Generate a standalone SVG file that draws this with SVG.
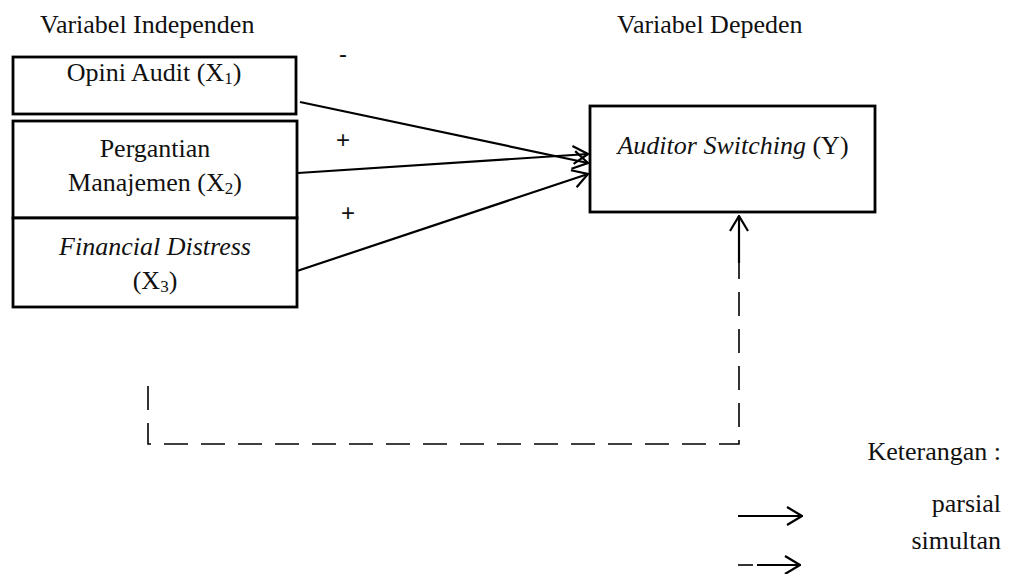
<svg xmlns="http://www.w3.org/2000/svg" width="1010" height="574" viewBox="0 0 1010 574">
<style>
  text { font-family: "Liberation Serif", "Times New Roman", serif; font-size: 26px; fill: #111; }
  .it { font-style: italic; }
  .c { text-anchor: middle; }
  .e { text-anchor: end; }
  .sign { font-family: "Liberation Sans", Arial, sans-serif; font-size: 24px; text-anchor: middle; }
  .box { fill: #fff; stroke: #000; stroke-width: 2.8; }
  .ln { fill: none; stroke: #000; stroke-width: 2.2; }
  .dash { fill: none; stroke: #000; stroke-width: 1.6; stroke-dasharray: 24 13; }
</style>
<defs>
  <marker id="open" viewBox="0 0 17 20" refX="16" refY="10" markerWidth="17" markerHeight="20" markerUnits="userSpaceOnUse" orient="auto">
    <path d="M1,1 L16,10 L1,19" fill="none" stroke="#000" stroke-width="2.2"/>
  </marker>
</defs>

<rect width="1010" height="574" fill="#fff"/>

<text x="40" y="33">Variabel Independen</text>
<text x="617" y="33">Variabel Depeden</text>

<g id="node-x1">
  <rect class="box" x="13" y="57" width="283" height="57"/>
  <text class="c" x="154" y="81">Opini Audit (X<tspan font-size="17" dy="3">1</tspan><tspan dy="-3">)</tspan></text>
</g>
<g id="node-x2">
  <rect class="box" x="13" y="121" width="284" height="97"/>
  <text class="c" x="155" y="157">Pergantian</text>
  <text class="c" x="155" y="191">Manajemen (X<tspan font-size="17" dy="3">2</tspan><tspan dy="-3">)</tspan></text>
</g>
<g id="node-x3">
  <rect class="box" x="13" y="218" width="284" height="89"/>
  <text class="c it" x="155" y="255">Financial Distress</text>
  <text class="c" x="155" y="289">(X<tspan font-size="17" dy="3">3</tspan><tspan dy="-3">)</tspan></text>
</g>
<g id="node-y">
  <rect class="box" x="590" y="106" width="285" height="106"/>
  <text class="c" x="733" y="154"><tspan class="it">Auditor Switching</tspan> (Y)</text>
</g>

<g id="connectors">
  <line class="ln" x1="300" y1="102" x2="588" y2="163" marker-end="url(#open)"/>
  <line class="ln" x1="298" y1="173" x2="588" y2="154" marker-end="url(#open)"/>
  <line class="ln" x1="297" y1="271" x2="588" y2="174" marker-end="url(#open)"/>
  <path class="dash" d="M148,386 V444 H739 V262"/>
  <line class="ln" x1="739" y1="263" x2="739" y2="216" marker-end="url(#open)"/>
</g>

<g id="signs">
  <text class="sign" x="343" y="62">-</text>
  <text class="sign" x="343" y="148">+</text>
  <text class="sign" x="348" y="221">+</text>
</g>

<g id="legend">
  <text class="e" x="1001" y="460">Keterangan :</text>
  <text class="e" x="1001" y="512">parsial</text>
  <text class="e" x="1001" y="549">simultan</text>
  <line class="ln" x1="738" y1="516" x2="802" y2="516" marker-end="url(#open)"/>
  <line x1="738" y1="565" x2="753" y2="565" stroke="#000" stroke-width="1.6"/>
  <line class="ln" x1="757" y1="565" x2="800" y2="565" marker-end="url(#open)"/>
</g>
</svg>
